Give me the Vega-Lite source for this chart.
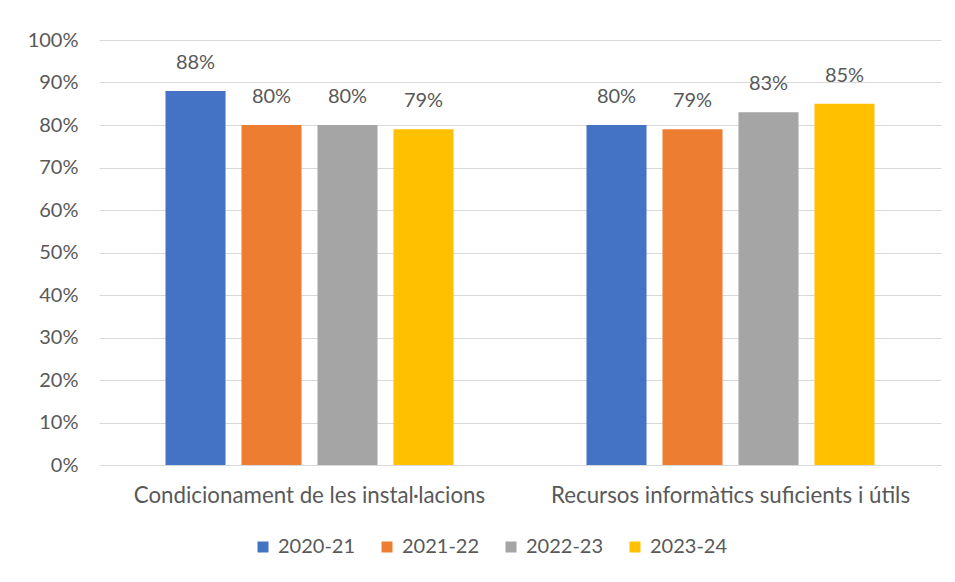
{
  "$schema": "https://vega.github.io/schema/vega-lite/v6.json",
  "autosize": {"type": "none"},
  "width": 842,
  "height": 425,
  "padding": {"left": 99, "top": 40, "right": 14, "bottom": 117},
  "background": "white",
  "data": {
    "values": [
      {"cat": "Condicionament de les instal·lacions", "curs": "2020-21", "v": 0.88},
      {"cat": "Condicionament de les instal·lacions", "curs": "2021-22", "v": 0.80},
      {"cat": "Condicionament de les instal·lacions", "curs": "2022-23", "v": 0.80},
      {"cat": "Condicionament de les instal·lacions", "curs": "2023-24", "v": 0.79},
      {"cat": "Recursos informàtics suficients i útils", "curs": "2020-21", "v": 0.80},
      {"cat": "Recursos informàtics suficients i útils", "curs": "2021-22", "v": 0.79},
      {"cat": "Recursos informàtics suficients i útils", "curs": "2022-23", "v": 0.83},
      {"cat": "Recursos informàtics suficients i útils", "curs": "2023-24", "v": 0.85}
    ]
  },
  "encoding": {
    "x": {
      "field": "cat", "type": "nominal", "title": null, "sort": null,
      "scale": {"paddingInner": 0, "paddingOuter": 0},
      "axis": {"labelAngle": 0, "ticks": false, "domainColor": "#d9d9d9", "labelFontSize": 22.3, "labelColor": "#595959", "labelPadding": 19, "labelFont": "Lato", "labelLimit": 0}
    },
    "xOffset": {"field": "curs", "type": "nominal", "scale": {"paddingInner": 0.21, "paddingOuter": 0.875}},
    "y": {
      "field": "v", "type": "quantitative", "title": null,
      "scale": {"domain": [0, 1], "nice": false},
      "axis": {"format": ".0%", "values": [0, 0.1, 0.2, 0.3, 0.4, 0.5, 0.6, 0.7, 0.8, 0.9, 1], "domain": false, "ticks": false, "gridColor": "#d9d9d9", "labelFontSize": 20, "labelColor": "#595959", "labelPadding": 21, "labelFont": "Lato"}
    }
  },
  "layer": [
    {
      "mark": {"type": "bar"},
      "encoding": {
        "color": {
          "field": "curs", "type": "nominal", "title": null,
          "scale": {"domain": ["2020-21", "2021-22", "2022-23", "2023-24"], "range": ["#4472C4", "#ED7D31", "#A5A5A5", "#FFC000"]},
          "legend": {"orient": "none", "legendX": 154, "legendY": 497, "direction": "horizontal", "symbolType": "square", "symbolSize": 121, "symbolStrokeWidth": 0, "labelFontSize": 20, "labelColor": "#595959", "labelFont": "Lato", "columnPadding": 21, "labelOffset": 5}
        }
      }
    },
    {
      "mark": {"type": "text", "dy": -28, "fontSize": 20, "color": "#595959", "font": "Lato"},
      "encoding": {"text": {"field": "v", "type": "quantitative", "format": ".0%"}}
    }
  ],
  "config": {"view": {"stroke": null}}
}
